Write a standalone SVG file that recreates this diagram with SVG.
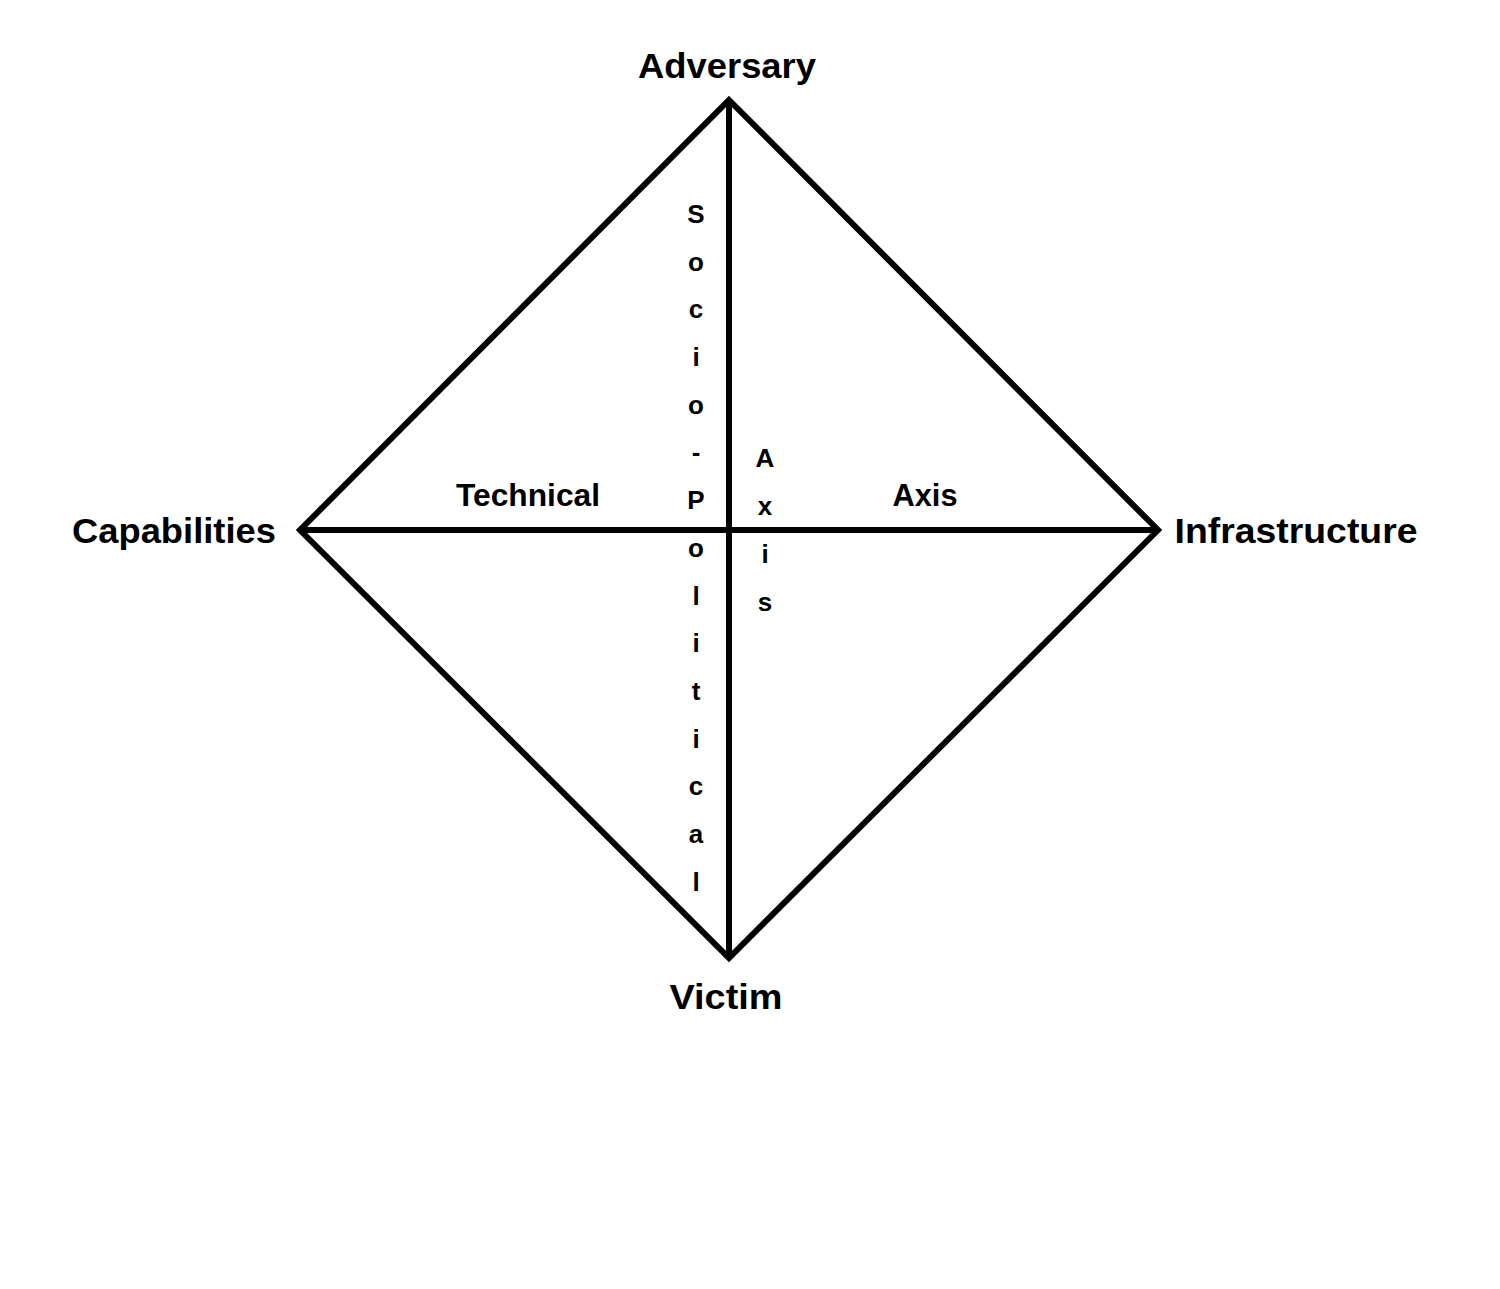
<svg xmlns="http://www.w3.org/2000/svg" width="1500" height="1289" viewBox="0 0 1500 1289">
<style>
.lbl{font-family:"Liberation Sans","Open Sans",sans-serif;font-weight:bold;fill:#000;text-anchor:middle}
.big{font-size:35px}
.mid{font-size:32px}
.sm{font-size:26px}
.edge{stroke:#000;stroke-width:6;fill:none;stroke-linejoin:miter;stroke-linecap:butt}
</style>
<rect width="1500" height="1289" fill="#fff"/>
<g id="connectors">
<polygon class="edge" points="729,100 1158,530 729,958 300,530"/>
<line class="edge" x1="729" y1="100" x2="729" y2="958"/>
<line class="edge" x1="300" y1="530" x2="1158" y2="530"/>
</g>
<g id="node-adversary"><text class="lbl big" x="727" y="78" textLength="178" lengthAdjust="spacingAndGlyphs">Adversary</text></g>
<g id="node-capabilities"><text class="lbl big" x="174" y="543" textLength="204" lengthAdjust="spacingAndGlyphs">Capabilities</text></g>
<g id="node-infrastructure"><text class="lbl big" x="1296" y="543" textLength="243" lengthAdjust="spacingAndGlyphs">Infrastructure</text></g>
<g id="node-victim"><text class="lbl big" x="726" y="1009" textLength="113" lengthAdjust="spacingAndGlyphs">Victim</text></g>
<g id="label-technical"><text class="lbl mid" x="528" y="506" textLength="144" lengthAdjust="spacingAndGlyphs">Technical</text></g>
<g id="label-axis"><text class="lbl mid" x="925" y="506" textLength="65" lengthAdjust="spacingAndGlyphs">Axis</text></g>
<g id="label-sociopolitical" class="lbl sm">
<text x="696" y="223">S</text>
<text x="696" y="271">o</text>
<text x="696" y="318">c</text>
<text x="696" y="366">i</text>
<text x="696" y="414">o</text>
<text x="696" y="461">-</text>
<text x="696" y="509">P</text>
<text x="696" y="557">o</text>
<text x="696" y="605">l</text>
<text x="696" y="652">i</text>
<text x="696" y="700">t</text>
<text x="696" y="748">i</text>
<text x="696" y="795">c</text>
<text x="696" y="843">a</text>
<text x="696" y="891">l</text>
</g>
<g id="label-axis-vertical" class="lbl sm">
<text x="765" y="467">A</text>
<text x="765" y="515">x</text>
<text x="765" y="563">i</text>
<text x="765" y="611">s</text>
</g>
</svg>
